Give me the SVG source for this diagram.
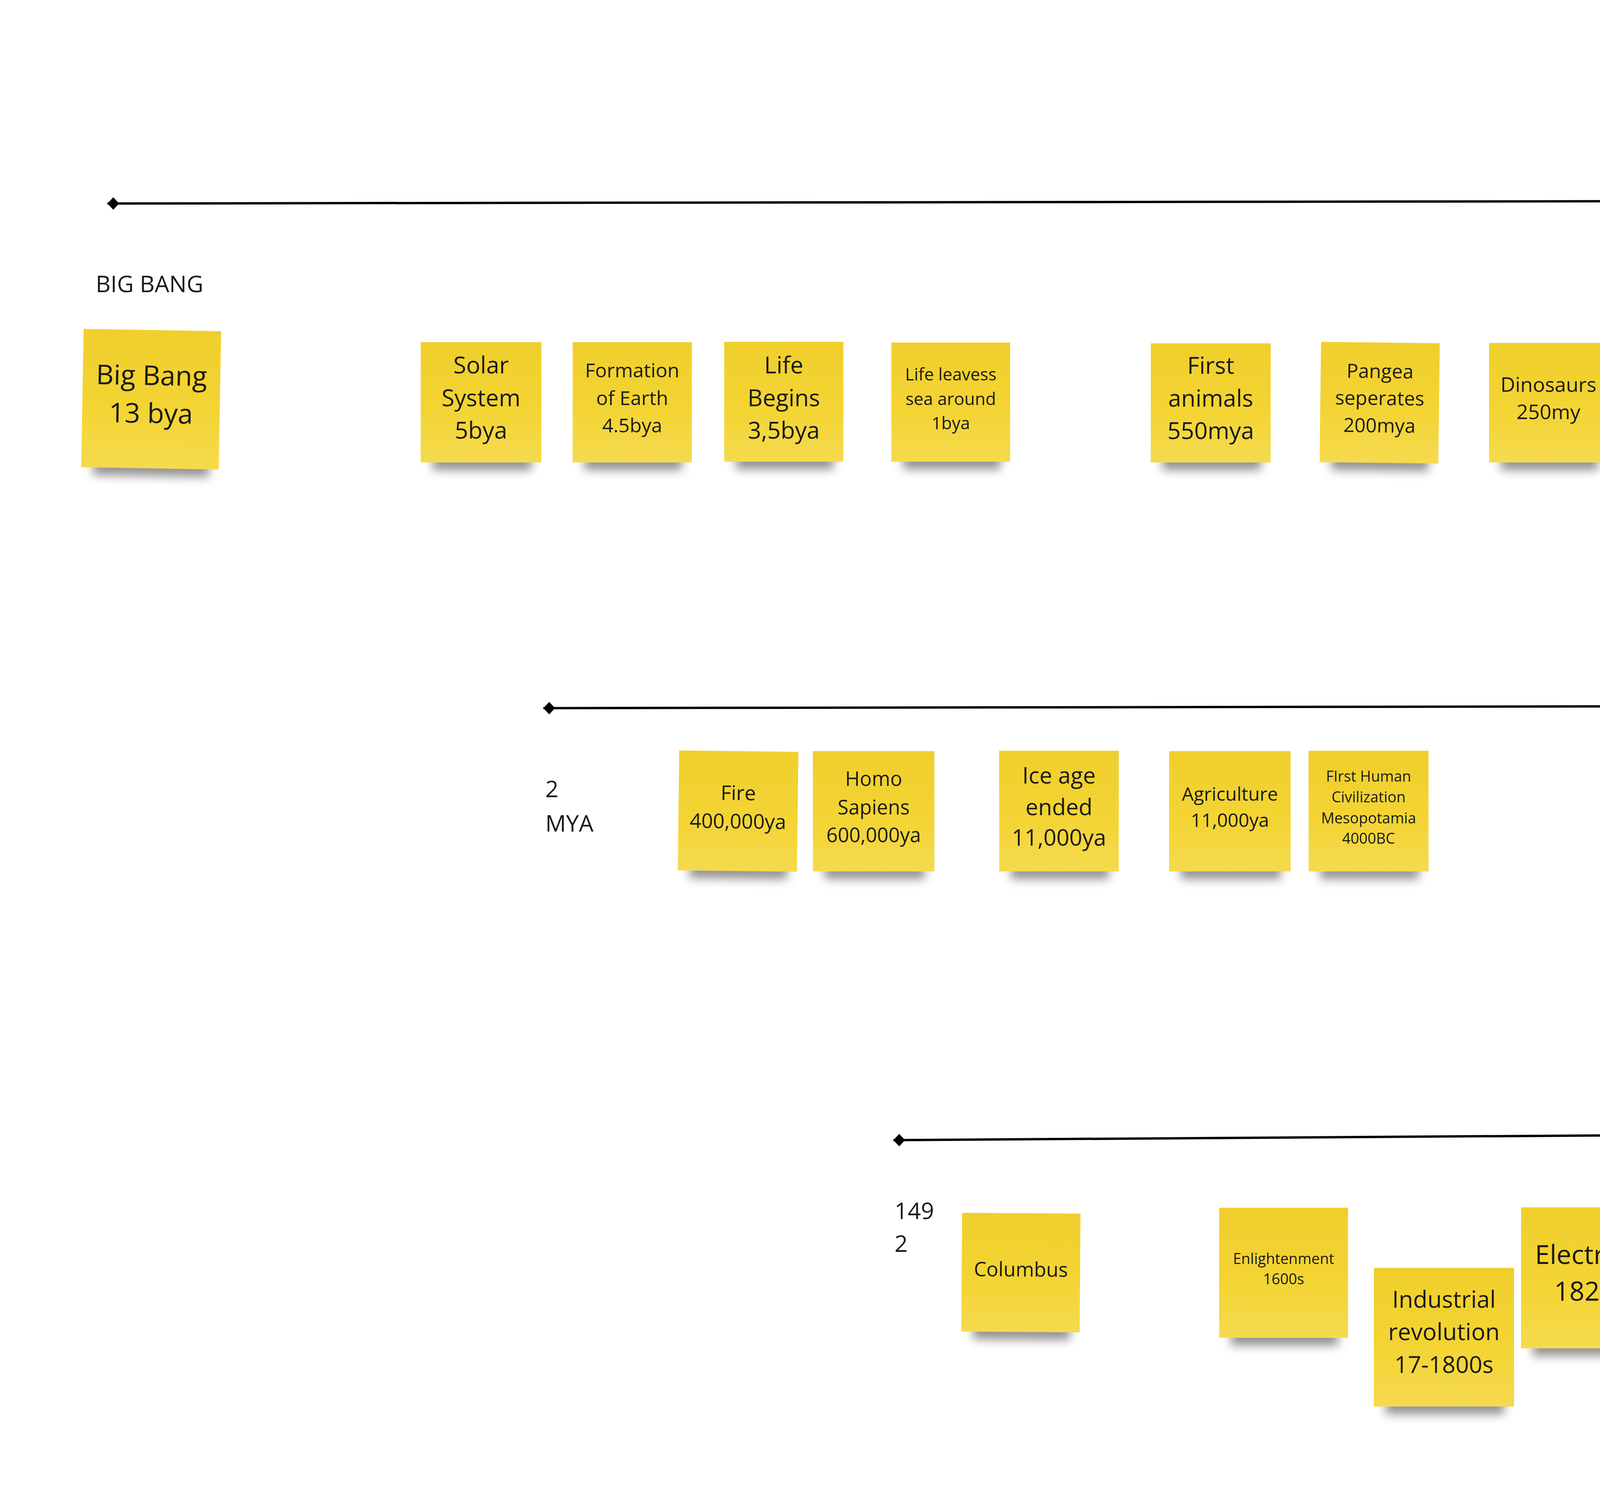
<svg xmlns="http://www.w3.org/2000/svg" width="7239" height="3807" viewBox="0 0 7239 3807">
<style>
.paper{fill:url(#paperGrad)}
.shadow{fill:#000;fill-opacity:0.42;filter:url(#blur)}
.t{font-family:"Open Sans","Liberation Sans",sans-serif;fill:#1a1a1a;text-anchor:middle}
.lbl{font-family:"Open Sans","Liberation Sans",sans-serif;fill:#1a1a1a;font-size:59px}
.axis{fill:none;stroke:#000;stroke-width:6;marker-start:url(#diamond);marker-end:url(#arrow)}
</style>
<defs>
<linearGradient id="paperGrad" x1="0" y1="0" x2="0" y2="1">
<stop offset="0" stop-color="#f0cf2d"/>
<stop offset="0.55" stop-color="#f3d432"/>
<stop offset="1" stop-color="#f5da4f"/>
</linearGradient>
<filter id="blur" x="-30%" y="-60%" width="160%" height="220%">
<feGaussianBlur stdDeviation="12"/>
</filter>
<marker id="arrow" viewBox="-16 -16 40 32" refX="0" refY="0" markerWidth="40" markerHeight="32" markerUnits="userSpaceOnUse" orient="auto">
<path d="M22,0 L-14,-15 L-6,0 L-14,15 Z" fill="#000"/>
</marker>
<marker id="diamond" viewBox="-2 -18 34 36" refX="0" refY="0" markerWidth="34" markerHeight="36" markerUnits="userSpaceOnUse" orient="auto">
<path d="M0,0 L15,-16 L30,0 L15,16 Z" fill="#000"/>
</marker>
</defs>
<rect x="0" y="0" width="7239" height="3807" fill="#ffffff"/>

<g id="connectors">
<path class="axis" d="M275,521 L6538,511.5"/>
<path class="axis" d="M1391,1813 L6538,1804.5"/>
<path class="axis" d="M2287,2919 L6773,2889.2"/>
</g>

<g id="labels">
<text class="lbl" x="245" y="748">BIG BANG</text>
<text class="lbl" x="5912" y="365">PRESENT DAY</text>
<text class="lbl" font-size="60"><tspan x="1396" y="2041">2</tspan><tspan x="1396" y="2129">MYA</tspan></text>
<text class="lbl" font-size="58"><tspan x="2290" y="3121">149</tspan><tspan x="2290" y="3205">2</tspan></text>
</g>

<!-- Row 1 -->
<g id="n-bigbang" transform="rotate(1 387 1022)">
<rect class="shadow" x="241" y="1159" width="297" height="60"/>
<rect class="paper" x="211" y="845" width="352" height="354"/>
<text class="t" font-size="70"><tspan x="387" y="986">Big Bang</tspan><tspan x="387" y="1083">13 bya</tspan></text>
</g>
<g id="n-solar">
<rect class="shadow" x="1107" y="1144" width="254" height="60"/>
<rect class="paper" x="1077" y="876" width="309" height="308"/>
<text class="t" font-size="60"><tspan x="1231.5" y="956">Solar</tspan><tspan x="1231.5" y="1040">System</tspan><tspan x="1231.5" y="1123">5bya</tspan></text>
</g>
<g id="n-formation">
<rect class="shadow" x="1496" y="1144" width="250" height="60"/>
<rect class="paper" x="1466" y="876" width="305" height="308"/>
<text class="t" font-size="50"><tspan x="1618.5" y="966">Formation</tspan><tspan x="1618.5" y="1037">of Earth</tspan><tspan x="1618.5" y="1107">4.5bya</tspan></text>
</g>
<g id="n-lifebegins">
<rect class="shadow" x="1884" y="1142" width="250" height="60"/>
<rect class="paper" x="1854" y="875" width="305" height="307"/>
<text class="t" font-size="60"><tspan x="2006.5" y="956">Life</tspan><tspan x="2006.5" y="1040">Begins</tspan><tspan x="2006.5" y="1123">3,5bya</tspan></text>
</g>
<g id="n-lifeleaves">
<rect class="shadow" x="2312" y="1142" width="249" height="60"/>
<rect class="paper" x="2282" y="877" width="304" height="305"/>
<text class="t" font-size="44"><tspan x="2434" y="974">Life leavess</tspan><tspan x="2434" y="1037">sea around</tspan><tspan x="2434" y="1099">1bya</tspan></text>
</g>
<g id="n-firstanimals">
<rect class="shadow" x="2976" y="1144" width="252" height="60"/>
<rect class="paper" x="2946" y="879" width="307" height="305"/>
<text class="t" font-size="60"><tspan x="3099.5" y="957">First</tspan><tspan x="3099.5" y="1041">animals</tspan><tspan x="3099.5" y="1124">550mya</tspan></text>
</g>
<g id="n-pangea" transform="rotate(0.7 3532 1031)">
<rect class="shadow" x="3410" y="1145" width="249" height="60"/>
<rect class="paper" x="3380" y="877" width="304" height="308"/>
<text class="t" font-size="50"><tspan x="3532" y="968">Pangea</tspan><tspan x="3532" y="1037">seperates</tspan><tspan x="3532" y="1107">200mya</tspan></text>
</g>
<g id="n-dinosaurs">
<rect class="shadow" x="3842" y="1144" width="249" height="60"/>
<rect class="paper" x="3812" y="878" width="304" height="306"/>
<text class="t" font-size="52"><tspan x="3964" y="1003">Dinosaurs</tspan><tspan x="3964" y="1073">250my</tspan></text>
</g>
<g id="n-extinct" transform="rotate(0.7 4309 1031)">
<rect class="shadow" x="4186" y="1145" width="251" height="60"/>
<rect class="paper" x="4156" y="877" width="306" height="308"/>
<text class="t" font-size="48"><tspan x="4309" y="971">Dinosaurs</tspan><tspan x="4309" y="1037">extinct</tspan><tspan x="4309" y="1103">250my</tspan></text>
</g>

<!-- Row 2 -->
<g id="n-fire" transform="rotate(0.7 1889.5 2076.5)">
<rect class="shadow" x="1767" y="2190" width="250" height="60"/>
<rect class="paper" x="1737" y="1923" width="305" height="307"/>
<text class="t" font-size="52"><tspan x="1889.5" y="2048.5">Fire</tspan><tspan x="1889.5" y="2121">400,000ya</tspan></text>
</g>
<g id="n-homo">
<rect class="shadow" x="2111" y="2191" width="256" height="60"/>
<rect class="paper" x="2081" y="1923" width="311" height="308"/>
<text class="t" font-size="51"><tspan x="2236.5" y="2012">Homo</tspan><tspan x="2236.5" y="2085">Sapiens</tspan><tspan x="2236.5" y="2156">600,000ya</tspan></text>
</g>
<g id="n-iceage">
<rect class="shadow" x="2588" y="2191" width="251" height="60"/>
<rect class="paper" x="2558" y="1922" width="306" height="309"/>
<text class="t" font-size="58"><tspan x="2711" y="2006">Ice age</tspan><tspan x="2711" y="2087">ended</tspan><tspan x="2711" y="2165">11,000ya</tspan></text>
</g>
<g id="n-agriculture">
<rect class="shadow" x="3023" y="2191" width="256" height="60"/>
<rect class="paper" x="2993" y="1923" width="311" height="308"/>
<text class="t" font-size="48"><tspan x="3148.5" y="2050">Agriculture</tspan><tspan x="3148.5" y="2117">11,000ya</tspan></text>
</g>
<g id="n-civilization">
<rect class="shadow" x="3380" y="2191" width="252" height="60"/>
<rect class="paper" x="3350" y="1922" width="307" height="309"/>
<text class="t" font-size="38"><tspan x="3503.5" y="2001">FIrst Human</tspan><tspan x="3503.5" y="2054">Civilization</tspan><tspan x="3503.5" y="2108">Mesopotamia</tspan><tspan x="3503.5" y="2160">4000BC</tspan></text>
</g>

<!-- Row 3 -->
<g id="n-columbus" transform="rotate(0.4 2613.5 3258)">
<rect class="shadow" x="2492" y="3370" width="248" height="60"/>
<rect class="paper" x="2462" y="3106" width="303" height="304"/>
<text class="t" font-size="51"><tspan x="2613.5" y="3268">Columbus</tspan></text>
</g>
<g id="n-enlightenment">
<rect class="shadow" x="3151" y="3385" width="275" height="60"/>
<rect class="paper" x="3121" y="3092" width="330" height="333"/>
<text class="t" font-size="38"><tspan x="3286" y="3236">Enlightenment</tspan><tspan x="3286" y="3288">1600s</tspan></text>
</g>
<g id="n-industrial">
<rect class="shadow" x="3547" y="3561" width="304" height="60"/>
<rect class="paper" x="3517" y="3246" width="359" height="355"/>
<text class="t" font-size="60"><tspan x="3696.5" y="3348">Industrial</tspan><tspan x="3696.5" y="3431">revolution</tspan><tspan x="3696.5" y="3515">17-1800s</tspan></text>
</g>
<g id="n-electricity">
<rect class="shadow" x="3924" y="3412" width="302" height="60"/>
<rect class="paper" x="3894" y="3091" width="357" height="361"/>
<text class="t" font-size="68"><tspan x="4072.5" y="3236">Electricty</tspan><tspan x="4072.5" y="3330">1820s</tspan></text>
</g>
<g id="n-ww1" transform="rotate(0.4 4427.5 3422)">
<rect class="shadow" x="4282" y="3559" width="296" height="60"/>
<rect class="paper" x="4252" y="3245" width="351" height="354"/>
<text class="t" font-size="63"><tspan x="4427.5" y="3345">First</tspan><tspan x="4427.5" y="3433">World</tspan><tspan x="4427.5" y="3521">War 1914</tspan></text>
</g>
<g id="n-ww2">
<rect class="shadow" x="4636" y="3416" width="298" height="60"/>
<rect class="paper" x="4606" y="3100" width="353" height="356"/>
<text class="t" font-size="55"><tspan x="4782.5" y="3209">Second</tspan><tspan x="4782.5" y="3286">World War</tspan><tspan x="4782.5" y="3361">1939-45</tspan></text>
</g>
<g id="n-moon">
<rect class="shadow" x="5011" y="3565" width="308" height="60"/>
<rect class="paper" x="4981" y="3246" width="363" height="359"/>
<text class="t" font-size="67"><tspan x="5162.5" y="3342">Moon</tspan><tspan x="5162.5" y="3435">Landings</tspan><tspan x="5162.5" y="3529">1961</tspan></text>
</g>
<g id="n-hominid" transform="rotate(0.5 5785.5 3423.5)">
<rect class="shadow" x="5638" y="3562" width="300" height="60"/>
<rect class="paper" x="5608" y="3245" width="355" height="357"/>
<text class="t" font-size="45"><tspan x="5785.5" y="3337">FIrst Homind</tspan><tspan x="5785.5" y="3400">Species</tspan><tspan x="5785.5" y="3463">discovered</tspan><tspan x="5785.5" y="3525">1974</tspan></text>
</g>
<g id="n-internet" transform="rotate(0.5 5482 3275.5)">
<rect class="shadow" x="5336" y="3413" width="297" height="60"/>
<rect class="paper" x="5306" y="3098" width="352" height="355"/>
<text class="t" font-size="74"><tspan x="5482" y="3239">Internet</tspan><tspan x="5482" y="3342.5">1983</tspan></text>
</g>
<g id="n-anthropocene">
<rect class="shadow" x="6017" y="3416" width="305" height="60"/>
<rect class="paper" x="5987" y="3096" width="360" height="359"/>
<text class="t" font-size="42"><tspan x="6167" y="3279">Anthropocene</tspan></text>
</g>
<g id="n-covid" transform="rotate(0.55 6543 3423.5)">
<rect class="shadow" x="6394" y="3563" width="303" height="60"/>
<rect class="paper" x="6364" y="3244" width="358" height="359"/>
<text class="t" font-size="74"><tspan x="6543" y="3385.5">COVID</tspan><tspan x="6543" y="3489">2019/20</tspan></text>
</g>
</svg>
